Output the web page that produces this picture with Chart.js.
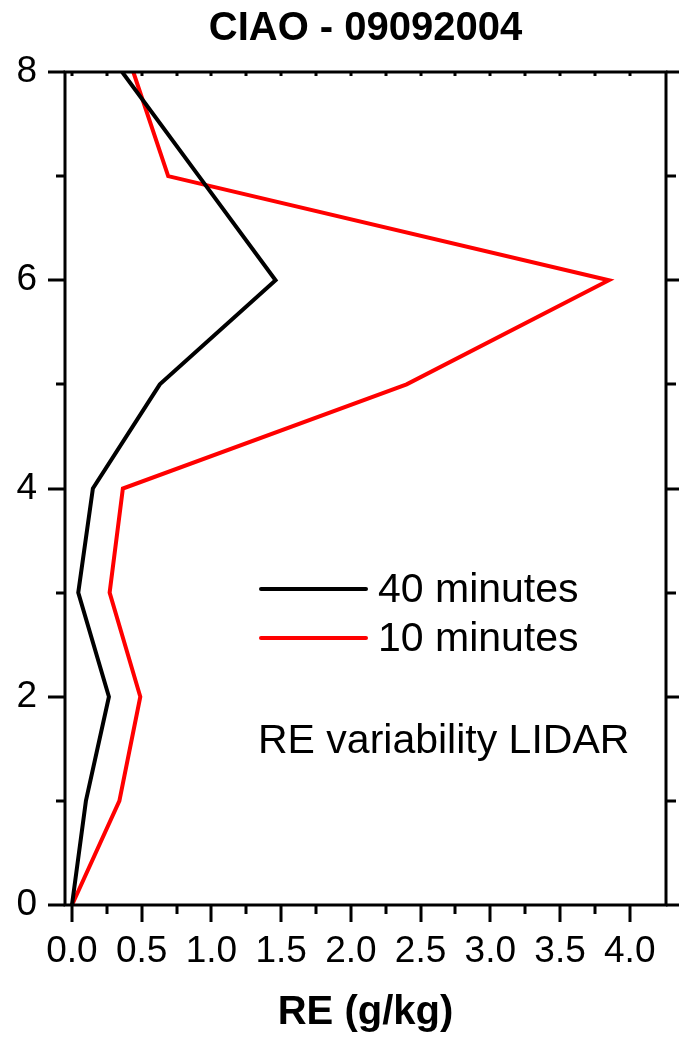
<!DOCTYPE html>
<html>
<head>
<meta charset="utf-8">
<script src="https://cdn.jsdelivr.net/npm/chart.js@4.4.1/dist/chart.umd.min.js"></script>
<style>
  html, body { margin: 0; padding: 0; background: #fff; }
  #wrap { width: 679px; height: 1037px; position: relative; }
</style>
</head>
<body>
<div id="wrap"><canvas id="profile"></canvas></div>
<script>
// height levels (km) and RE values (g/kg) for each averaging window
const heights = [0, 1, 2, 3, 4, 5, 6, 7, 8];
const re40min = [0.0, 0.10, 0.265, 0.045, 0.15, 0.63, 1.46, 0.91, 0.36];
const re10min = [0.0, 0.34, 0.49, 0.27, 0.365, 2.40, 3.85, 0.69, 0.44];

const xTickValues = [0, 0.5, 1.0, 1.5, 2.0, 2.5, 3.0, 3.5, 4.0];
const yTickValues = [0, 2, 4, 6, 8];
const xMinorStep = 0.25;
const yMinorStep = 1;

const SANS = "'Liberation Sans', Arial, sans-serif";
const NARROW = "'Liberation Sans Narrow', 'Liberation Sans', Arial, sans-serif";

const toPoints = (xs) => heights.map((h, i) => ({ x: xs[i], y: h }));

// box frame with Origin-style ticks: outside on left/bottom/right, small inside on top
const frameTicks = {
  id: "frameTicks",
  afterDatasetsDraw(chart) {
    const { ctx, chartArea: a, scales: { x, y } } = chart;
    ctx.save();
    ctx.strokeStyle = "#000";
    ctx.lineWidth = 3;
    ctx.lineCap = "butt";
    ctx.strokeRect(a.left, a.top, a.right - a.left, a.bottom - a.top);

    ctx.beginPath();
    for (let v = 0; v <= 4.0001; v += xMinorStep) {
      const px = Math.round(x.getPixelForValue(v));
      const major = Math.abs(v / 0.5 - Math.round(v / 0.5)) < 1e-6;
      ctx.moveTo(px, a.bottom);
      ctx.lineTo(px, a.bottom + (major ? 17 : 9));
      ctx.moveTo(px, a.top);
      ctx.lineTo(px, a.top + 4);
    }
    for (let v = 0; v <= 8; v += yMinorStep) {
      const py = Math.round(y.getPixelForValue(v));
      const major = v % 2 === 0;
      ctx.moveTo(a.left, py);
      ctx.lineTo(a.left - (major ? 17 : 9), py);
      ctx.moveTo(a.right, py);
      ctx.lineTo(a.right + (major ? 14 : 10), py);
    }
    ctx.stroke();
    ctx.restore();
  }
};

// legend lines + caption inside the plot
const insetLegend = {
  id: "insetLegend",
  afterDraw(chart) {
    const { ctx } = chart;
    ctx.save();
    ctx.font = "41px " + SANS;
    ctx.textBaseline = "middle";
    ctx.textAlign = "left";
    chart.data.datasets.forEach((ds, i) => {
      const yy = 589 + i * 49;
      ctx.strokeStyle = ds.borderColor;
      ctx.lineWidth = 4;
      ctx.lineCap = "round";
      ctx.beginPath();
      ctx.moveTo(261, yy);
      ctx.lineTo(366, yy);
      ctx.stroke();
      ctx.fillStyle = "#000";
      ctx.fillText(ds.label, 378, yy + 2);
    });
    ctx.fillText("RE variability LIDAR", 258, 742);
    ctx.restore();
  }
};

new Chart(document.getElementById("profile"), {
  type: "scatter",
  data: {
    datasets: [
      { label: "40 minutes", data: toPoints(re40min), borderColor: "#000000", borderWidth: 4 },
      { label: "10 minutes", data: toPoints(re10min), borderColor: "#ff0000", borderWidth: 4 }
    ]
  },
  options: {
    responsive: true,
    maintainAspectRatio: false,
    animation: false,
    devicePixelRatio: 1,
    layout: { padding: { top: 0, right: 13, left: 0, bottom: 0 } },
    elements: {
      line: { borderWidth: 4, tension: 0, borderJoinStyle: "miter", fill: false },
      point: { radius: 0, hoverRadius: 0 }
    },
    datasets: { scatter: { showLine: true } },
    plugins: {
      legend: { display: false },
      tooltip: { enabled: false },
      title: {
        display: true,
        text: "CIAO - 09092004",
        color: "#000",
        fullSize: false,
        font: { family: SANS, size: 40, weight: "bold" },
        padding: { top: 5, bottom: 19 }
      }
    },
    scales: {
      x: {
        type: "linear",
        min: -0.05,
        max: 4.26,
        afterBuildTicks: (s) => { s.ticks = xTickValues.map(v => ({ value: v })); },
        afterFit: (s) => { s.height = 132; },
        grid: { display: false },
        border: { display: false },
        ticks: {
          autoSkip: false,
          maxRotation: 0,
          padding: 17,
          color: "#000",
          font: { family: NARROW, size: 37 },
          callback: (v) => Number(v).toFixed(1)
        },
        title: {
          display: true,
          text: "RE (g/kg)",
          color: "#000",
          font: { family: SANS, size: 40, weight: "bold" },
          padding: { top: 0, bottom: 0 }
        }
      },
      y: {
        type: "linear",
        min: 0,
        max: 8,
        afterBuildTicks: (s) => { s.ticks = yTickValues.map(v => ({ value: v })); },
        afterFit: (s) => { s.width = 65; },
        grid: { display: false },
        border: { display: false },
        ticks: {
          autoSkip: false,
          padding: 20,
          color: "#000",
          font: { family: NARROW, size: 37 }
        }
      }
    }
  },
  plugins: [frameTicks, insetLegend]
});
</script>
</body>
</html>
